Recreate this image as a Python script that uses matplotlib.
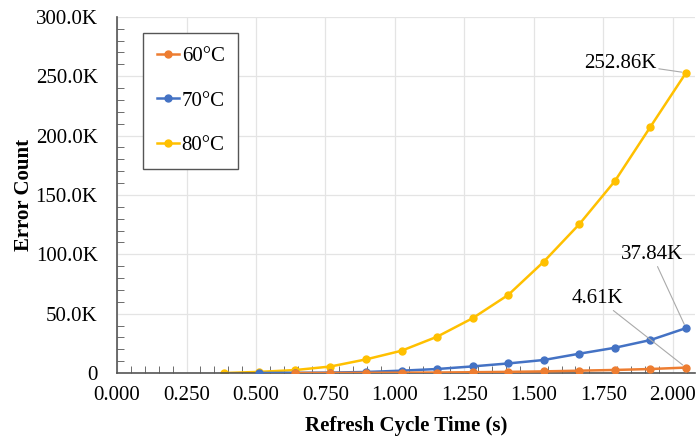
import matplotlib
matplotlib.use("Agg")
import matplotlib.pyplot as plt
from matplotlib.ticker import MultipleLocator, FuncFormatter

# refresh cycle time (s)
t_80 = [0.384, 0.512, 0.640, 0.768, 0.896, 1.024, 1.152, 1.280, 1.408, 1.536, 1.664, 1.792, 1.920, 2.048]
t_70 = t_80[1:]
t_60 = t_80[2:]

# error counts
err_80 = [0, 1000, 2500, 5500, 11500, 18800, 30600, 46200, 65800, 93800, 125400, 161700, 207400, 252860]
err_70 = [50, 200, 400, 900, 2000, 3400, 5600, 8100, 11000, 16300, 21300, 27800, 37840]
err_60 = [20, 60, 150, 300, 450, 700, 1000, 1400, 2000, 2600, 3400, 4610]

labels = ["60°C", "70°C", "80°C"]
c_60 = "#ED7D31"
c_70 = "#4472C4"
c_80 = "#FFC000"

FS = 15
plt.rcParams["font.family"] = ["Liberation Serif", "DejaVu Serif"]

fig = plt.figure(figsize=(6.97, 4.42), dpi=100)
ax = fig.add_axes([0.168, 0.156, 0.829, 0.806])

ax.plot(t_60, err_60, "-o", color=c_60, lw=1.8, ms=5, label=labels[0], zorder=4)
ax.plot(t_70, err_70, "-o", color=c_70, lw=1.8, ms=5, label=labels[1], zorder=3)
ax.plot(t_80, err_80, "-o", color=c_80, lw=1.8, ms=5, label=labels[2], zorder=2)

ax.set_xlim(0, 2.08)
ax.set_ylim(0, 300000)
ax.xaxis.set_major_locator(MultipleLocator(0.25))
ax.xaxis.set_minor_locator(MultipleLocator(0.05))
ax.yaxis.set_major_locator(MultipleLocator(50000))
ax.yaxis.set_minor_locator(MultipleLocator(10000))
ax.xaxis.set_major_formatter(FuncFormatter(lambda v, p: f"{v:.3f}"))
ax.yaxis.set_major_formatter(FuncFormatter(lambda v, p: "0" if v == 0 else f"{v/1000:.1f}K"))

ax.grid(True, which="major", color="#e4e4e4", lw=0.9)
ax.set_axisbelow(True)
for s in ["top", "right"]:
    ax.spines[s].set_visible(False)
for s in ["left", "bottom"]:
    ax.spines[s].set_color("#555555")
    ax.spines[s].set_linewidth(1.2)
ax.tick_params(which="both", direction="in", colors="#555555", labelcolor="black", labelsize=FS)
ax.tick_params(which="major", length=0)
ax.tick_params(axis="y", which="major", pad=14)
ax.tick_params(axis="x", which="major", pad=9)
ax.tick_params(which="minor", length=5)

ax.set_xlabel("Refresh Cycle Time (s)", fontsize=FS, fontweight="bold", labelpad=8)
ax.set_ylabel("Error Count", fontsize=FS, fontweight="bold", labelpad=1.5)

leg = ax.legend(loc="upper left", bbox_to_anchor=(0.045, 0.955), fontsize=FS,
                labelspacing=1.2, handlelength=1.05, handletextpad=0.15,
                borderpad=0.65, borderaxespad=0, fancybox=False, framealpha=1,
                edgecolor="#555555")
leg.get_frame().set_linewidth(1.0)

arrow = dict(arrowstyle="-", color="#aaaaaa", lw=0.8, shrinkA=0, shrinkB=3)
ax.annotate("252.86K", xy=(t_80[-1], err_80[-1]), xytext=(1.81, 261000),
            ha="center", va="center", fontsize=FS, arrowprops=arrow)
ax.annotate("37.84K", xy=(t_70[-1], err_70[-1]), xytext=(1.925, 100000),
            ha="center", va="center", fontsize=FS, arrowprops=arrow)
ax.annotate("4.61K", xy=(t_60[-1], err_60[-1]), xytext=(1.73, 63000),
            ha="center", va="center", fontsize=FS, arrowprops=arrow)

fig.savefig("out.png", dpi=100)
